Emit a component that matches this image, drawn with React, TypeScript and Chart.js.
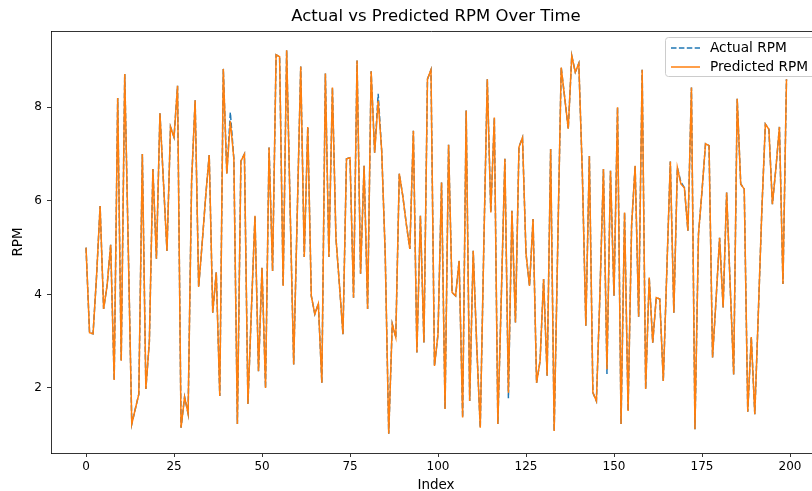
import React, { useEffect, useRef } from "react";
import Chart from "chart.js/auto";

const predictedRPM: number[] = [
  5.0, 3.18, 3.16, 4.4, 5.89, 3.69, 4.2, 5.06, 2.17, 8.2,
  2.58, 8.71, 5.0, 1.23, 1.55, 1.87, 7.0, 1.98, 3.0, 6.68,
  4.76, 7.87, 6.4, 4.93, 7.58, 7.36, 8.46, 1.15, 1.81, 1.45,
  6.43, 8.15, 4.16, 5.1, 6.1, 6.98, 3.61, 4.47, 1.83, 8.82,
  6.58, 7.7, 6.9, 1.23, 6.85, 7.0, 1.66, 3.7, 5.68, 2.36,
  4.57, 2.0, 7.14, 4.5, 9.12, 9.08, 4.18, 9.22, 5.8, 2.5,
  5.7, 8.87, 4.8, 7.58, 3.97, 3.58, 3.8, 2.11, 8.72, 4.8,
  8.42, 5.21, 4.2, 3.15, 6.9, 6.92, 3.93, 9.0, 4.44, 6.75,
  3.69, 8.77, 7.03, 8.14, 7.07, 4.87, 1.02, 3.37, 3.08, 6.58,
  6.1, 5.5, 4.97, 7.5, 2.76, 5.68, 2.97, 8.6, 8.8, 2.47,
  3.15, 6.39, 1.55, 7.2, 4.04, 3.97, 4.72, 1.37, 7.93, 1.72,
  4.93, 2.9, 1.15, 5.0, 8.6, 5.75, 7.78, 1.23, 4.0, 6.9,
  1.9, 5.79, 3.4, 7.15, 7.35, 4.87, 4.18, 5.61, 2.11, 2.58,
  4.33, 2.26, 7.11, 1.08, 5.0, 8.85, 8.2, 7.54, 9.1, 8.75,
  8.94, 6.6, 3.33, 6.96, 1.9, 1.72, 4.0, 6.68, 2.4, 6.64,
  3.97, 8.0, 1.23, 5.75, 1.51, 5.47, 6.75, 3.52, 8.8, 1.98,
  4.36, 2.97, 3.93, 3.9, 2.15, 4.5, 6.84, 3.61, 6.71, 6.36,
  6.28, 5.36, 8.42, 1.12, 5.29, 6.21, 7.22, 7.18, 2.65, 3.9,
  5.21, 3.72, 6.18, 4.2, 2.29, 8.18, 6.36, 6.25, 1.49, 3.09,
  1.44, 3.6, 5.8, 7.64, 7.53, 5.93, 6.7, 7.58, 4.22, 8.6,
];

const actualRPM: number[] = [
  5.0, 3.18, 3.16, 4.4, 5.89, 3.69, 4.2, 5.06, 2.17, 8.2,
  2.58, 8.71, 5.0, 1.23, 1.55, 1.87, 7.0, 1.98, 3.0, 6.68,
  4.76, 7.87, 6.4, 4.93, 7.58, 7.36, 8.46, 1.15, 1.81, 1.45,
  6.43, 8.15, 4.16, 5.1, 6.1, 6.98, 3.61, 4.47, 1.83, 8.82,
  6.58, 7.89, 6.9, 1.23, 6.85, 7.0, 1.66, 3.7, 5.68, 2.36,
  4.57, 2.0, 7.14, 4.5, 9.12, 9.08, 4.18, 9.22, 5.8, 2.5,
  5.7, 8.87, 4.8, 7.58, 3.97, 3.58, 3.8, 2.11, 8.72, 4.8,
  8.42, 5.21, 4.2, 3.15, 6.9, 6.92, 3.93, 9.0, 4.44, 6.75,
  3.69, 8.77, 7.03, 8.29, 7.07, 4.87, 1.02, 3.37, 3.08, 6.58,
  6.1, 5.5, 4.97, 7.5, 2.76, 5.68, 2.97, 8.6, 8.8, 2.47,
  3.15, 6.39, 1.55, 7.2, 4.04, 3.97, 4.72, 1.37, 7.93, 1.72,
  4.93, 2.9, 1.15, 5.0, 8.6, 5.75, 7.78, 1.23, 4.0, 6.9,
  1.78, 5.79, 3.4, 7.15, 7.35, 4.87, 4.18, 5.61, 2.11, 2.58,
  4.33, 2.26, 7.11, 1.08, 5.0, 8.85, 8.2, 7.54, 9.1, 8.75,
  8.94, 6.6, 3.33, 6.96, 1.9, 1.72, 4.0, 6.68, 2.3, 6.64,
  3.97, 8.0, 1.23, 5.75, 1.51, 5.47, 6.75, 3.52, 8.8, 1.98,
  4.36, 2.97, 3.93, 3.9, 2.15, 4.5, 6.84, 3.61, 6.71, 6.4,
  6.28, 5.36, 8.42, 1.12, 5.29, 6.21, 7.22, 7.18, 2.65, 3.9,
  5.21, 3.72, 6.18, 4.2, 2.29, 8.18, 6.36, 6.25, 1.49, 3.09,
  1.44, 3.6, 5.8, 7.64, 7.53, 5.93, 6.7, 7.58, 4.22, 8.6,
];

const xTickLabels: number[] = [0, 25, 50, 75, 100, 125, 150, 175, 200];
const yTickLabels: number[] = [2, 4, 6, 8];

const TITLE = "Actual vs Predicted RPM Over Time";
const X_LABEL = "Index";
const Y_LABEL = "RPM";
const SERIES_NAMES = ["Actual RPM", "Predicted RPM"];
const BLUE = "#1f77b4";
const ORANGE = "#ff7f0e";
const FONT = "'DejaVu Sans', sans-serif";

const decorPlugin = {
  id: "decor",
  afterDraw(chart: any) {
    const { ctx, chartArea } = chart;
    const axesCenter = 436;
    ctx.save();
    // top frame line
    ctx.strokeStyle = "#000";
    ctx.lineWidth = 0.8;
    ctx.beginPath();
    ctx.moveTo(chartArea.left, chartArea.top + 0.5);
    ctx.lineTo(chartArea.right, chartArea.top + 0.5);
    ctx.stroke();
    // title
    ctx.fillStyle = "#000";
    ctx.font = `16.5px ${FONT}`;
    ctx.textAlign = "center";
    ctx.textBaseline = "middle";
    ctx.fillText(TITLE, axesCenter, 17);
    // axis labels
    ctx.font = `13.5px ${FONT}`;
    ctx.fillText(X_LABEL, axesCenter, 485);
    ctx.save();
    ctx.translate(18, (chartArea.top + chartArea.bottom) / 2);
    ctx.rotate(-Math.PI / 2);
    ctx.fillText(Y_LABEL, 0, 0);
    ctx.restore();
    // legend
    const bx = 665.5, by = 37.5, bw = 170, bh = 39, r = 3;
    ctx.beginPath();
    ctx.moveTo(bx + r, by);
    ctx.lineTo(bx + bw - r, by);
    ctx.arcTo(bx + bw, by, bx + bw, by + r, r);
    ctx.lineTo(bx + bw, by + bh - r);
    ctx.arcTo(bx + bw, by + bh, bx + bw - r, by + bh, r);
    ctx.lineTo(bx + r, by + bh);
    ctx.arcTo(bx, by + bh, bx, by + bh - r, r);
    ctx.lineTo(bx, by + r);
    ctx.arcTo(bx, by, bx + r, by, r);
    ctx.closePath();
    ctx.fillStyle = "rgba(255,255,255,0.8)";
    ctx.fill();
    ctx.strokeStyle = "#cccccc";
    ctx.lineWidth = 1;
    ctx.stroke();
    const rows = [48, 67];
    ctx.lineWidth = 1.5;
    ctx.strokeStyle = BLUE;
    ctx.setLineDash([5.5, 2.4]);
    ctx.beginPath();
    ctx.moveTo(671, rows[0]);
    ctx.lineTo(700, rows[0]);
    ctx.stroke();
    ctx.setLineDash([]);
    ctx.strokeStyle = ORANGE;
    ctx.beginPath();
    ctx.moveTo(671, rows[1]);
    ctx.lineTo(700, rows[1]);
    ctx.stroke();
    ctx.fillStyle = "#000";
    ctx.font = `13.7px ${FONT}`;
    ctx.textAlign = "left";
    ctx.textBaseline = "middle";
    ctx.fillText(SERIES_NAMES[0], 710, rows[0]);
    ctx.fillText(SERIES_NAMES[1], 710, rows[1]);
    ctx.restore();
  },
};

export default function App() {
  const canvasRef = useRef<HTMLCanvasElement | null>(null);

  useEffect(() => {
    if (!canvasRef.current) return;
    const toPoints = (arr: number[]) => arr.map((v, i) => ({ x: i, y: v }));
    const chart = new Chart(canvasRef.current, {
      type: "line",
      data: {
        datasets: [
          {
            label: SERIES_NAMES[0],
            data: toPoints(actualRPM),
            borderColor: BLUE,
            borderWidth: 1.5,
            borderDash: [5.5, 2.4],
            pointRadius: 0,
            tension: 0,
            fill: false,
            order: 1,
          },
          {
            label: SERIES_NAMES[1],
            data: toPoints(predictedRPM),
            borderColor: ORANGE,
            borderWidth: 1.5,
            pointRadius: 0,
            tension: 0,
            fill: false,
            order: 0,
          },
        ],
      },
      options: {
        animation: false,
        responsive: false,
        devicePixelRatio: 1,
        layout: { padding: { top: 31, left: 0, right: 0, bottom: 0 } },
        plugins: {
          legend: { display: false },
          title: { display: false },
          tooltip: { enabled: false },
        },
        scales: {
          x: {
            type: "linear",
            min: -9.95,
            max: 206.25,
            afterBuildTicks: (scale: any) => {
              scale.ticks = xTickLabels.map((v) => ({ value: v }));
            },
            afterFit: (scale: any) => {
              scale.height = 38;
            },
            ticks: {
              color: "#000",
              font: { family: FONT, size: 12 },
              padding: 3,
              maxRotation: 0,
              autoSkip: false,
              callback: (v: any) => String(v),
            },
            grid: {
              display: true,
              drawOnChartArea: false,
              drawTicks: true,
              tickLength: 4,
              color: "#000",
              lineWidth: 0.8,
            },
            border: { display: true, color: "#000", width: 0.8 },
          },
          y: {
            type: "linear",
            min: 0.61,
            max: 9.63,
            afterBuildTicks: (scale: any) => {
              scale.ticks = yTickLabels.map((v) => ({ value: v }));
            },
            afterFit: (scale: any) => {
              scale.width = 51;
            },
            ticks: {
              color: "#000",
              font: { family: FONT, size: 12 },
              padding: 5,
              autoSkip: false,
              callback: (v: any) => String(v),
            },
            grid: {
              display: true,
              drawOnChartArea: false,
              drawTicks: true,
              tickLength: 4,
              color: "#000",
              lineWidth: 0.8,
            },
            border: { display: true, color: "#000", width: 0.8 },
          },
        },
      },
      plugins: [decorPlugin],
    });
    return () => chart.destroy();
  }, []);

  return (
    <div style={{ position: "fixed", left: 0, top: 0, width: 812, height: 491, background: "#fff" }}>
      <canvas ref={canvasRef} width={812} height={491} style={{ display: "block" }} />
    </div>
  );
}
